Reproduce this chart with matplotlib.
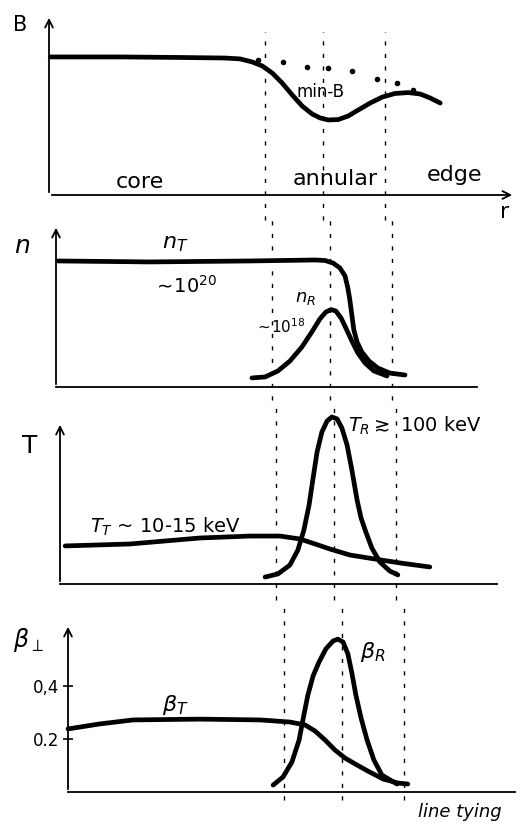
import numpy as np
from matplotlib import pyplot as plt

# figure in pixels -> 521 x 832
W, H = 521, 832

# region boundaries (core | annular | edge), in r units
bounds = [5.4, 6.85, 8.4]

# --- B panel
b_r = [0.03, 1.78, 3.28, 4.4, 4.78, 5.08, 5.33, 5.58, 5.83, 6.08, 6.33, 6.58, 6.78, 6.98,
       7.23, 7.48, 7.73, 8.03, 8.33, 8.65, 8.98, 9.28, 9.53, 9.78]
b_v = [0.767, 0.767, 0.764, 0.761, 0.756, 0.739, 0.717, 0.678, 0.622, 0.556, 0.494, 0.45, 0.428, 0.417,
       0.419, 0.439, 0.472, 0.511, 0.544, 0.564, 0.569, 0.561, 0.539, 0.511]
minb_r = [5.23, 5.85, 6.45, 6.98, 7.58, 8.2, 8.7, 9.1]
minb_v = [0.75, 0.739, 0.711, 0.706, 0.689, 0.644, 0.622, 0.583]

# --- density panel
nT_r = [0.05, 2.35, 4.85, 6.48, 6.73, 6.93, 7.1, 7.23, 7.3, 7.35, 7.4, 7.45, 7.53, 7.65, 7.83, 8.05, 8.35, 8.73]
nT_v = [0.778, 0.772, 0.778, 0.784, 0.781, 0.765, 0.735, 0.685, 0.611, 0.537, 0.444, 0.352, 0.278, 0.216,
        0.16, 0.117, 0.086, 0.074]
nR_r = [4.9, 5.23, 5.55, 5.85, 6.15, 6.4, 6.6, 6.75, 6.88, 7.0, 7.13, 7.25, 7.4, 7.55, 7.73, 7.95, 8.28]
nR_v = [0.056, 0.062, 0.099, 0.16, 0.247, 0.34, 0.42, 0.463, 0.478, 0.469, 0.426, 0.364, 0.284, 0.21,
        0.148, 0.099, 0.068]

# --- temperature panel
TT_r = [0.13, 1.75, 3.5, 4.75, 5.5, 6.0, 6.38, 6.75, 7.25, 7.88, 8.5, 9.25]
TT_v = [0.235, 0.247, 0.284, 0.296, 0.296, 0.278, 0.247, 0.216, 0.179, 0.154, 0.13, 0.105]
TR_r = [5.13, 5.45, 5.75, 5.95, 6.1, 6.23, 6.33, 6.43, 6.55, 6.68, 6.8, 6.93, 7.05, 7.18, 7.3, 7.43,
        7.53, 7.65, 7.8, 8.0, 8.25, 8.45]
TR_v = [0.043, 0.062, 0.117, 0.21, 0.333, 0.488, 0.654, 0.815, 0.938, 1.006, 1.031, 1.019, 0.963, 0.858,
        0.704, 0.519, 0.407, 0.321, 0.222, 0.136, 0.08, 0.056]

# --- beta panel
bT_r = [0.0, 0.8, 1.63, 3.3, 4.8, 5.55, 5.93, 6.18, 6.43, 6.68, 6.93, 7.18, 7.5, 7.88, 8.25, 8.5]
bT_v = [0.238, 0.257, 0.272, 0.275, 0.272, 0.264, 0.253, 0.23, 0.196, 0.158, 0.128, 0.106, 0.079, 0.049,
        0.034, 0.03]
bR_r = [5.13, 5.38, 5.6, 5.78, 5.9, 6.0, 6.13, 6.28, 6.45, 6.63, 6.75, 6.88, 7.0, 7.1, 7.2, 7.33, 7.48,
        7.65, 7.85, 8.23]
bR_v = [0.026, 0.057, 0.113, 0.196, 0.291, 0.366, 0.438, 0.491, 0.54, 0.57, 0.577, 0.566, 0.521, 0.449,
        0.366, 0.279, 0.196, 0.121, 0.064, 0.03]
beta_ticks = [0.2, 0.4]
beta_labels = ['0.2', '0,4']


def panel(left, top, right, bottom, xmax, ymax, xarrow=False):
    ax = plt.gcf().add_axes([left / W, 1 - bottom / H, (right - left) / W, (bottom - top) / H])
    ax.set_xlim(0, xmax)
    ax.set_ylim(0, ymax)
    for s in ['top', 'right', 'left']:
        ax.spines[s].set_visible(False)
    ax.spines['bottom'].set_linewidth(1.3)
    ax.annotate('', xy=(0, 1), xytext=(0, 0), xycoords='axes fraction',
                arrowprops=dict(arrowstyle='->', lw=1.3, color='k', mutation_scale=14))
    if xarrow:
        ax.spines['bottom'].set_visible(False)
        ax.annotate('', xy=(1, 0), xytext=(0, 0), xycoords='axes fraction',
                    arrowprops=dict(arrowstyle='->', lw=1.3, color='k', mutation_scale=14))
    ax.set_xticks([])
    ax.set_yticks([])
    return ax


def guides(ax, lo, hi):
    for b in bounds:
        ax.axvline(b, ymin=lo, ymax=hi, color='k', lw=1.0, ls=(0, (3, 6)), clip_on=False)


def curve(ax, r, v):
    ax.plot(r, v, color='k', lw=3.4, solid_capstyle='round', solid_joinstyle='round', clip_on=False)


fig = plt.figure(figsize=(W / 100, H / 100), dpi=100)
fs = 15

# B
ax1 = panel(49, 15, 515, 195, 11.65, 1.0, xarrow=True)
guides(ax1, -0.14, 0.906)
curve(ax1, b_r, b_v)
ax1.plot(minb_r, minb_v, 'k.', ms=6)
ax1.text(-0.73, 0.944, 'B', fontsize=fs, ha='center', va='center')
ax1.text(6.78, 0.572, 'min-B', fontsize=12, ha='center', va='center')
ax1.text(2.28, 0.075, 'core', fontsize=16, ha='center', va='center')
ax1.text(7.15, 0.09, 'annular', fontsize=16, ha='center', va='center')
ax1.text(10.15, 0.11, 'edge', fontsize=16, ha='center', va='center')
ax1.text(11.4, -0.094, 'r', fontsize=fs + 1, ha='center', va='center')

# n
ax2 = panel(56, 225, 477, 387, 10.53, 1.0)
guides(ax2, -0.08, 1.03)
curve(ax2, nT_r, nT_v)
curve(ax2, nR_r, nR_v)
ax2.text(-0.85, 0.87, '$n$', fontsize=fs + 3, ha='center', va='center')
ax2.text(2.98, 0.88, '$n_T$', fontsize=fs + 1, ha='center', va='center')
ax2.text(3.23, 0.626, r'$\sim\!10^{20}$', fontsize=14, ha='center', va='center')
ax2.text(6.23, 0.55, '$n_R$', fontsize=13, ha='center', va='center')
ax2.text(5.6, 0.37, r'$\sim\!10^{18}$', fontsize=11, ha='center', va='center')

# T
ax3 = panel(60, 422, 497, 584, 10.93, 1.0)
guides(ax3, -0.1, 1.136)
curve(ax3, TT_r, TT_v)
curve(ax3, TR_r, TR_v)
ax3.text(-0.75, 0.853, 'T', fontsize=fs + 3, ha='center', va='center')
ax3.text(0.75, 0.35, r'$T_T$ ~ 10-15 keV', fontsize=14, ha='left', va='center')
ax3.text(7.2, 0.975, r'$T_R \gtrsim$ 100 keV', fontsize=14, ha='left', va='center')

# beta
ax4 = panel(68, 624, 515, 792, 11.18, 0.634)
guides(ax4, -0.05, 1.14)
curve(ax4, bT_r, bT_v)
curve(ax4, bR_r, bR_v)
ax4.set_yticks(beta_ticks)
ax4.set_yticklabels(beta_labels, fontsize=12)
ax4.tick_params(axis='y', direction='inout', length=7, width=1.2, pad=3)
ax4.text(-1.0, 0.574, r'$\beta_{\perp}$', fontsize=fs + 2, ha='center', va='center')
ax4.text(2.68, 0.33, r'$\beta_T$', fontsize=fs + 1, ha='center', va='center')
ax4.text(7.63, 0.53, r'$\beta_R$', fontsize=fs + 1, ha='center', va='center')
ax4.text(9.8, -0.075, 'line tying', fontsize=13, ha='center', va='center', style='italic')

plt.savefig('out.png', dpi=100)
